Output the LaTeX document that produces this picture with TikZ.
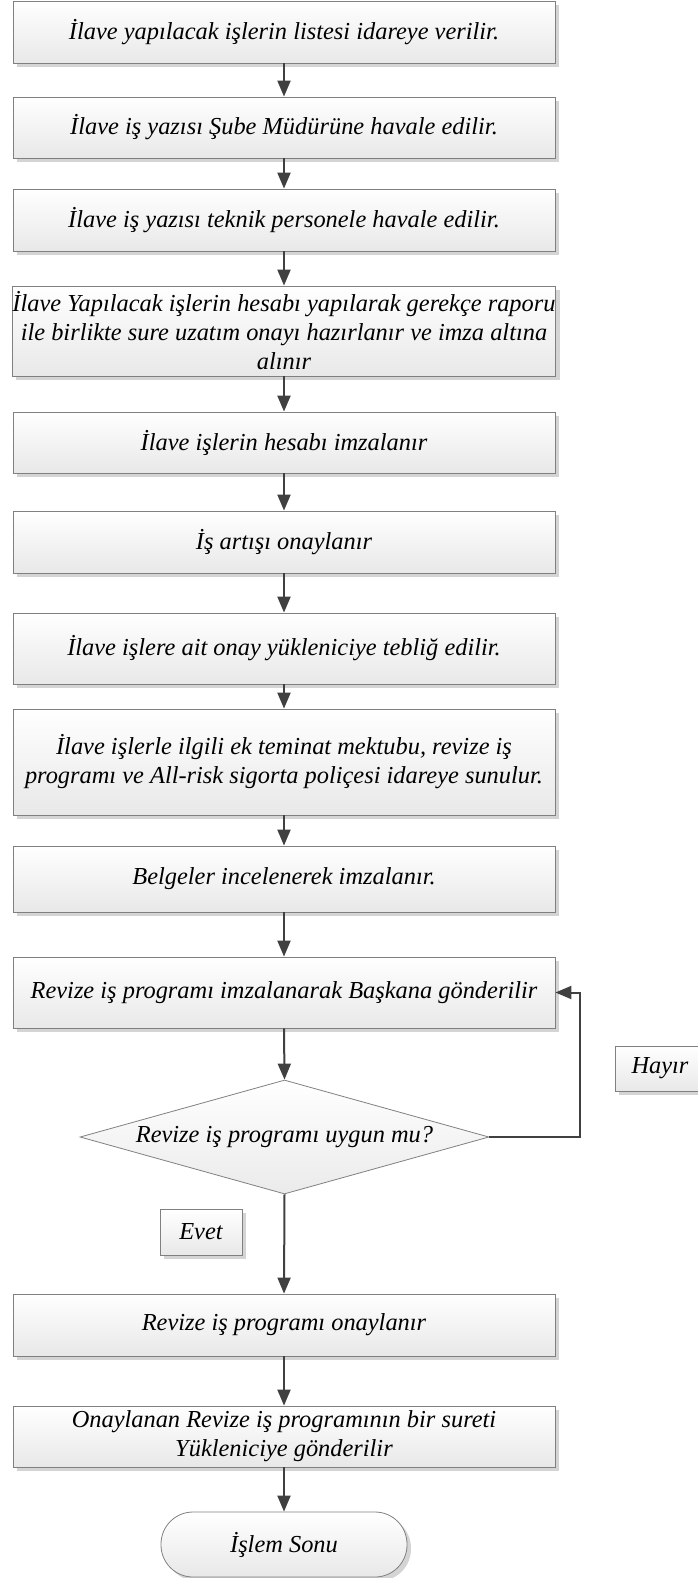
\documentclass[tikz,border=0pt]{standalone}
\usepackage{fontspec}
\setmainfont{Liberation Serif}
\usetikzlibrary{arrows.meta,shapes.geometric,shadows}
\begin{document}
\begin{tikzpicture}[x=1pt,y=-1pt,
  shade base/.style={draw=black!50, line width=0.8pt, top color=white, bottom color=black!9,
    inner sep=0pt, align=center, font=\fontsize{24.4}{29}\selectfont\itshape,
    drop shadow={shadow xshift=4pt, shadow yshift=-4pt, fill=black!17, opacity=1}},
  box/.style={shade base, minimum width=542pt},
  lab/.style={shade base},
  dec/.style={diamond, draw=black!50, line width=0.8pt, top color=white, bottom color=black!8,
    inner sep=0pt, minimum width=409pt, minimum height=114pt, shape aspect=3.59,
    font=\fontsize{24.4}{29}\selectfont\itshape},
  term/.style={shade base, rounded corners=32pt, minimum width=246pt, minimum height=65pt},
  arr/.style={draw=black!75, line width=2pt, -{Triangle[width=13pt,length=16pt]}},
  ln/.style={draw=black!75, line width=2pt}
]
\useasboundingbox (0,0) rectangle (697,1578);

\node[box, minimum height=62pt] (b1) at (284,32) {İlave yapılacak işlerin listesi idareye verilir.};
\node[box, minimum height=61pt] (b2) at (284,127.5) {İlave iş yazısı Şube Müdürüne havale edilir.};
\node[box, minimum height=62pt] (b3) at (284,220) {İlave iş yazısı teknik personele havale edilir.};
\node[box, minimum height=90pt] (b4) at (284,331) {İlave Yapılacak işlerin hesabı yapılarak gerekçe raporu\\ile birlikte sure uzatım onayı hazırlanır ve imza altına\\alınır};
\node[box, minimum height=61pt] (b5) at (284,442.5) {İlave işlerin hesabı imzalanır};
\node[box, minimum height=62pt] (b6) at (284,542) {İş artışı onaylanır};
\node[box, minimum height=71pt] (b7) at (284,648.5) {İlave işlere ait onay yükleniciye tebliğ edilir.};
\node[box, minimum height=106pt] (b8) at (284,762) {İlave işlerle ilgili ek teminat mektubu, revize iş\\programı ve All-risk sigorta poliçesi idareye sunulur.};
\node[box, minimum height=66pt] (b9) at (284,879) {Belgeler incelenerek imzalanır.};
\node[box, minimum height=71pt] (b10) at (284,992.5) {Revize iş programı imzalanarak Başkana gönderilir};
\node[dec] (d) at (284.5,1137) {Revize iş programı uygun mu?};
\node[box, minimum height=62pt] (b11) at (284,1325) {Revize iş programı onaylanır};
\node[box, minimum height=61pt] (b12) at (284,1436.5) {Onaylanan Revize iş programının bir sureti\\Yükleniciye gönderilir};
\node[term] (t) at (284,1544.5) {İşlem Sonu};

\node[lab, minimum width=90pt, minimum height=45pt] (hayir) at (660,1068.5) {Hayır};
\node[lab, minimum width=82pt, minimum height=46pt] (evet) at (201,1232) {Evet};

\draw[arr] (b1.south) -- (b2.north);
\draw[arr] (b2.south) -- (b3.north);
\draw[arr] (b3.south) -- (b4.north);
\draw[arr] (b4.south) -- (b5.north);
\draw[arr] (b5.south) -- (b6.north);
\draw[arr] (b6.south) -- (b7.north);
\draw[arr] (b7.south) -- (b8.north);
\draw[arr] (b8.south) -- (b9.north);
\draw[arr] (b9.south) -- (b10.north);
\draw[arr] (b10.south) -- (d.north);
\draw[arr] (d.south) -- (b11.north);
\draw[arr] (b11.south) -- (b12.north);
\draw[arr] (b12.south) -- (t.north);
\coordinate (loop) at (580,1137);
\draw[arr] (d.east) -- (loop) |- (b10.east);
\end{tikzpicture}
\end{document}
